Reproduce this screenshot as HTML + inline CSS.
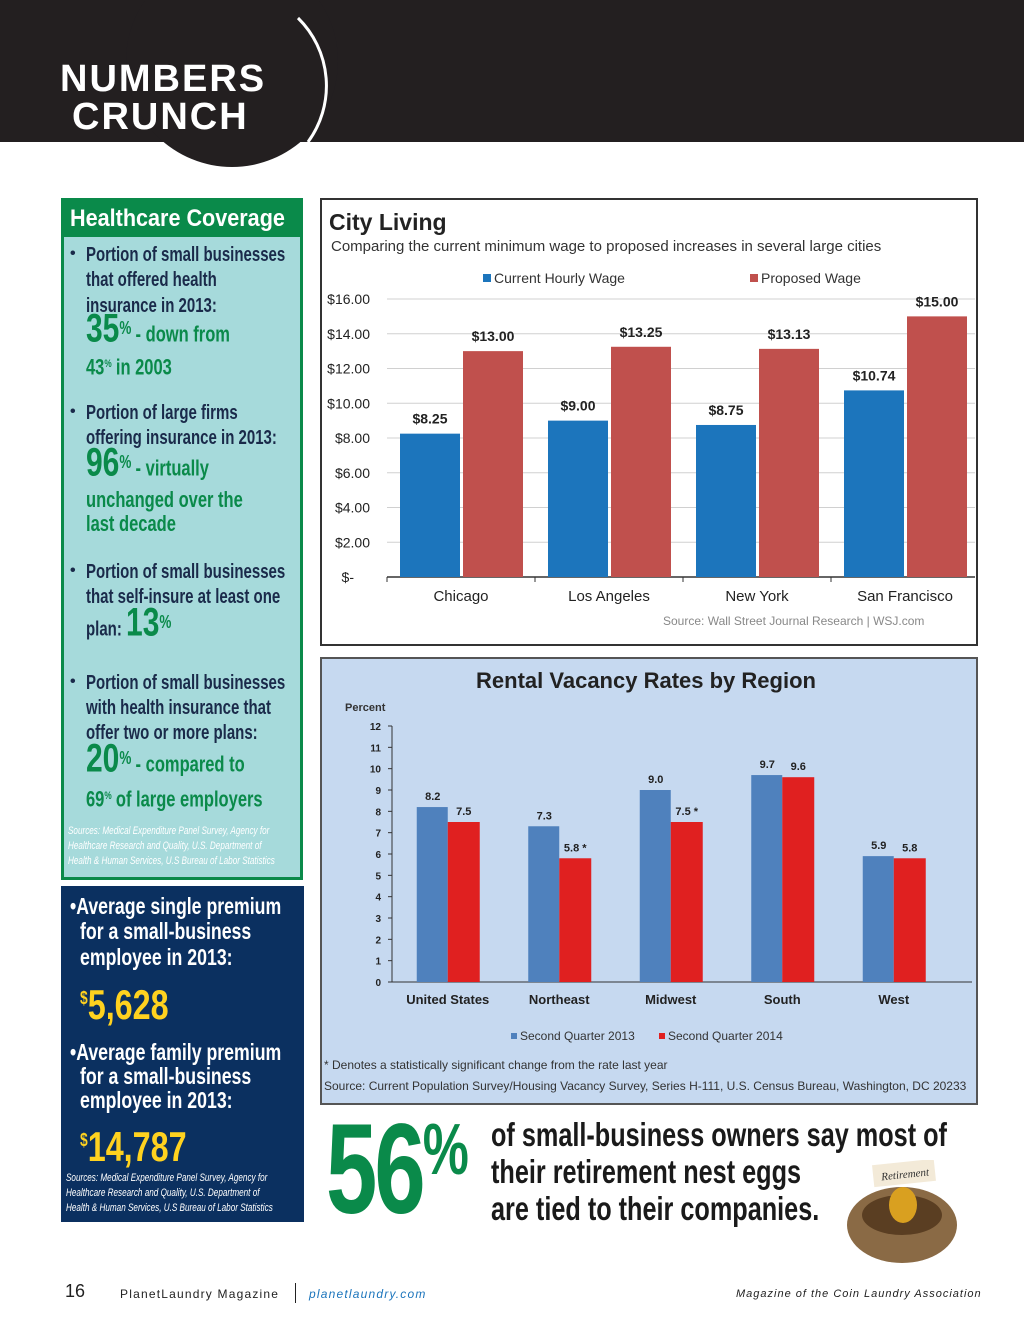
<!DOCTYPE html>
<html><head><meta charset="utf-8"><style>
*{margin:0;padding:0;box-sizing:border-box}
body{width:1024px;height:1329px;position:relative;background:#fff;font-family:"Liberation Sans",sans-serif;overflow:hidden}
.abs{position:absolute}
.ln{position:absolute;white-space:nowrap;transform-origin:0 50%;font-weight:bold}
.hc .ln{color:#1a2a4a;font-size:20px;line-height:24px;transform:scaleX(0.75)}
.hc .g{color:#0a8a4a}
.hc .gb{font-size:22px}
.bul{position:absolute;left:70px;font-size:16px;font-weight:bold;color:#1a2a4a}
.pr .ln{color:#fff;font-size:23px;line-height:26px;transform:scaleX(0.77)}
.src{position:absolute;white-space:nowrap;transform-origin:0 50%;font-style:italic;font-size:11px;line-height:15px;transform:scaleX(0.74);color:#fff}
</style></head><body>
<div class="abs" style="left:0;top:0;width:1024px;height:142px;background:#231f20"></div>
<svg class="abs" style="left:0;top:0" width="340" height="180">
<circle cx="232" cy="61" r="106" fill="#231f20"/>
<path d="M298,18 A95,95 0 0 1 308,142" stroke="#fff" stroke-width="3" fill="none"/>
</svg>
<div class="abs" style="left:60px;top:60px;color:#fff;font-weight:bold;font-size:38px;line-height:38px;letter-spacing:2px;transform:scaleX(1.0);transform-origin:0 0">NUMBERS<br><span style="margin-left:12px">CRUNCH</span></div>

<div class="abs hc" style="left:61px;top:198px;width:242px;height:682px;background:#a6dadb;border:3px solid #0a8a4a">
<div style="background:#0a8a4a;color:#fff;font-weight:bold;font-size:24px;height:36px;line-height:36px;padding-left:6px;white-space:nowrap"><span style="display:inline-block;transform:scaleX(0.9);transform-origin:0 50%">Healthcare Coverage</span></div>
</div>
<div class="hc">
<div class="bul" style="top:245px">•</div>
<div class="ln" style="left:86px;top:243px">Portion of small businesses</div>
<div class="ln" style="left:86px;top:268px">that offered health</div>
<div class="ln" style="left:86px;top:294px">insurance in 2013:</div>
<div class="ln g" style="left:86px;top:316px"><span style="font-size:40px">35</span><sup style="font-size:18px">%</sup> <span class="gb">- down from</span></div>
<div class="ln g" style="left:86px;top:352px"><span class="gb">43</span><sup style="font-size:11px">%</sup> <span class="gb">in 2003</span></div>
<div class="bul" style="top:403px">•</div>
<div class="ln" style="left:86px;top:401px">Portion of large firms</div>
<div class="ln" style="left:86px;top:426px">offering insurance in 2013:</div>
<div class="ln g" style="left:86px;top:450px"><span style="font-size:40px">96</span><sup style="font-size:18px">%</sup> <span class="gb">- virtually</span></div>
<div class="ln g" style="left:86px;top:488px"><span class="gb">unchanged over the</span></div>
<div class="ln g" style="left:86px;top:512px"><span class="gb">last decade</span></div>
<div class="bul" style="top:562px">•</div>
<div class="ln" style="left:86px;top:560px">Portion of small businesses</div>
<div class="ln" style="left:86px;top:585px">that self-insure at least one</div>
<div class="ln" style="left:86px;top:610px">plan: <span class="g" style="font-size:40px">13</span><sup class="g" style="font-size:18px">%</sup></div>
<div class="bul" style="top:673px">•</div>
<div class="ln" style="left:86px;top:671px">Portion of small businesses</div>
<div class="ln" style="left:86px;top:696px">with health insurance that</div>
<div class="ln" style="left:86px;top:721px">offer two or more plans:</div>
<div class="ln g" style="left:86px;top:746px"><span style="font-size:40px">20</span><sup style="font-size:18px">%</sup> <span class="gb">- compared to</span></div>
<div class="ln g" style="left:86px;top:784px"><span class="gb">69</span><sup style="font-size:11px">%</sup> <span class="gb">of large employers</span></div>
<div class="src" style="left:68px;top:824px">Sources: Medical Expenditure Panel Survey, Agency for</div>
<div class="src" style="left:68px;top:839px">Healthcare Research and Quality, U.S. Department of</div>
<div class="src" style="left:68px;top:854px">Health &amp; Human Services, U.S Bureau of Labor Statistics</div>
</div>

<div class="abs" style="left:61px;top:886px;width:243px;height:336px;background:#0b3060"></div>
<div class="pr">
<div class="ln" style="left:70px;top:893px">•Average single premium</div>
<div class="ln" style="left:80px;top:918px">for a small-business</div>
<div class="ln" style="left:80px;top:944px">employee in 2013:</div>
<div class="ln" style="left:80px;top:974px;color:#ffd21f;font-size:42px;line-height:48px"><sup style="font-size:18px">$</sup>5,628</div>
<div class="ln" style="left:70px;top:1039px">•Average family premium</div>
<div class="ln" style="left:80px;top:1063px">for a small-business</div>
<div class="ln" style="left:80px;top:1087px">employee in 2013:</div>
<div class="ln" style="left:80px;top:1116px;color:#ffd21f;font-size:42px;line-height:48px"><sup style="font-size:18px">$</sup>14,787</div>
<div class="src" style="left:66px;top:1171px">Sources: Medical Expenditure Panel Survey, Agency for</div>
<div class="src" style="left:66px;top:1186px">Healthcare Research and Quality, U.S. Department of</div>
<div class="src" style="left:66px;top:1201px">Health &amp; Human Services, U.S Bureau of Labor Statistics</div>
</div>

<svg class="abs" style="left:320px;top:198px" width="658" height="448" id="c1">
<rect x="1" y="1" width="656" height="446" fill="#fff" stroke="#333" stroke-width="2"/>
<text x="9" y="32" font-size="23" font-weight="bold" fill="#222">City Living</text>
<text x="11" y="53" font-size="15" fill="#333">Comparing the current minimum wage to proposed increases in several large cities</text>
<rect x="163" y="76" width="8" height="8" fill="#1c75bc"/><text x="174" y="85" font-size="14" fill="#333">Current Hourly Wage</text>
<rect x="430" y="76" width="8" height="8" fill="#c0504d"/><text x="441" y="85" font-size="14" fill="#333">Proposed Wage</text>
<g id="c1g"></g>
<text x="343" y="427" font-size="12" fill="#888">Source: Wall Street Journal Research  |  WSJ.com</text>
</svg>

<svg class="abs" style="left:320px;top:657px" width="658" height="448" id="c2">
<rect x="1" y="1" width="656" height="446" fill="#c6d9f0" stroke="#555" stroke-width="2"/>
<text x="326" y="31" font-size="22" font-weight="bold" fill="#222" text-anchor="middle">Rental Vacancy Rates by Region</text>
<text x="25" y="54" font-size="11" font-weight="bold" fill="#333">Percent</text>
<g id="c2g"></g>
<rect x="191" y="376" width="6" height="6" fill="#4f81bd"/><text x="200" y="383" font-size="12" fill="#333">Second Quarter 2013</text>
<rect x="339" y="376" width="6" height="6" fill="#e02020"/><text x="348" y="383" font-size="12" fill="#333">Second Quarter 2014</text>
<text x="4" y="412" font-size="12" fill="#333">* Denotes a statistically significant change from the rate last year</text>
<text x="4" y="433" font-size="12" fill="#333">Source: Current Population Survey/Housing Vacancy Survey, Series H-111, U.S. Census Bureau, Washington, DC 20233</text>
</svg>

<div class="abs" style="left:326px;top:1100px;color:#0a8a4a;font-weight:bold;font-size:128px;line-height:140px;letter-spacing:-4px;white-space:nowrap;transform:scaleX(0.72);transform-origin:0 0">56<span style="font-size:72px;vertical-align:top;line-height:100px">%</span></div>
<div class="ln" style="left:491px;top:1116px;color:#1a1a1a;font-size:33px;line-height:37px;transform:scaleX(0.765);transform-origin:0 0">of small-business owners say most of<br>their retirement nest eggs<br>are tied to their companies.</div>
<svg class="abs" style="left:845px;top:1160px" width="115" height="110">
<ellipse cx="57" cy="65" rx="55" ry="38" fill="#8a6a45"/>
<ellipse cx="57" cy="55" rx="40" ry="20" fill="#5a3e22"/>
<ellipse cx="58" cy="45" rx="14" ry="18" fill="#d9a020"/>
<rect x="28" y="2" width="62" height="22" fill="#f3ead8" transform="rotate(-6 59 13)"/>
<text x="36" y="18" font-size="11" font-style="italic" font-family="Liberation Serif" fill="#333" transform="rotate(-6 59 13)">Retirement</text>
</svg>

<div class="abs" style="left:65px;top:1281px;font-size:18px;color:#222">16</div>
<div class="abs" style="left:120px;top:1287px;font-size:12px;letter-spacing:1.2px;color:#222">PlanetLaundry Magazine</div>
<div class="abs" style="left:295px;top:1283px;width:1px;height:20px;background:#222"></div>
<div class="abs" style="left:309px;top:1287px;font-size:12px;letter-spacing:1.2px;color:#1c75bc;font-style:italic">planetlaundry.com</div>
<div class="abs" style="left:736px;top:1288px;font-size:11px;letter-spacing:1px;color:#222;font-style:italic">Magazine of the Coin Laundry Association</div>

<script>
const cities=["Chicago","Los Angeles","New York","San Francisco"];
const currentWage=[8.25,9.00,8.75,10.74];
const proposedWage=[13.00,13.25,13.13,15.00];
const wageTicks=[0,2,4,6,8,10,12,14,16];
const wageTickLabels=["$-","$2.00","$4.00","$6.00","$8.00","$10.00","$12.00","$14.00","$16.00"];

const regions=["United States","Northeast","Midwest","South","West"];
const q2013=[8.2,7.3,9.0,9.7,5.9];
const q2014=[7.5,5.8,7.5,9.6,5.8];
const q2014Star=[false,true,true,false,false];
const vacTicks=[0,1,2,3,4,5,6,7,8,9,10,11,12];

const NS="http://www.w3.org/2000/svg";
function mk(p,t,a,txt){const e=document.createElementNS(NS,t);for(const k in a)e.setAttribute(k,a[k]);if(txt!==undefined)e.textContent=txt;p.appendChild(e);return e;}

(function(){
const g=document.getElementById('c1g');
const y=v=>379-v*(278/16);
const x0=67,step=148;
const cx=i=>x0+step*(i+0.5);
wageTicks.forEach((t,i)=>{
 if(t>0){const l=mk(g,'line',{x1:67,x2:655,y1:y(t),y2:y(t),stroke:'#d0d0d0'});
 
 }
 const tx=mk(g,'text',{x:t===0?34:50,y:y(t)+5,'font-size':14,fill:'#222','text-anchor':'end'},wageTickLabels[i]);
 
 
});
mk(g,'line',{x1:67,x2:655,y1:y(0),y2:y(0),stroke:'#333','stroke-width':1.5});
cities.forEach((c,i)=>{
 mk(g,'line',{x1:x0+step*i,x2:x0+step*i,y1:y(0),y2:y(0)+5,stroke:'#333'});
 const b=mk(g,'rect',{x:cx(i)-61,y:y(currentWage[i]),width:60,height:y(0)-y(currentWage[i]),fill:'#1c75bc'});
 
 
 const r=mk(g,'rect',{x:cx(i)+2,y:y(proposedWage[i]),width:60,height:y(0)-y(proposedWage[i]),fill:'#c0504d'});
 
 
 mk(g,'text',{x:cx(i)-31,y:y(currentWage[i])-10,'font-size':14,'font-weight':'bold',fill:'#222','text-anchor':'middle'},'$'+currentWage[i].toFixed(2));
 mk(g,'text',{x:cx(i)+32,y:y(proposedWage[i])-10,'font-size':14,'font-weight':'bold',fill:'#222','text-anchor':'middle'},'$'+proposedWage[i].toFixed(2));
 const cl=mk(g,'text',{x:cx(i),y:403,'font-size':15,fill:'#222','text-anchor':'middle'},c);
 
 
});
})();

(function(){
const g=document.getElementById('c2g');
const y=v=>325-v*(256/12);
const x0=72,step=111.5;
const cx=i=>x0+step*(i+0.5);
vacTicks.forEach(t=>{
 const tx=mk(g,'text',{x:61,y:y(t)+4,'font-size':10,'font-weight':'bold',fill:'#222','text-anchor':'end'},t);
 
 
 mk(g,'line',{x1:68,x2:72,y1:y(t),y2:y(t),stroke:'#333'});
});
mk(g,'line',{x1:72,x2:72,y1:y(12),y2:y(0),stroke:'#333'});
mk(g,'line',{x1:72,x2:652,y1:y(0),y2:y(0),stroke:'#333'});
regions.forEach((c,i)=>{
 const b=mk(g,'rect',{x:cx(i)-31,y:y(q2013[i]),width:31,height:y(0)-y(q2013[i]),fill:'#4f81bd'});
 
 
 const r=mk(g,'rect',{x:cx(i),y:y(q2014[i]),width:32,height:y(0)-y(q2014[i]),fill:'#e02020'});
 
 
 mk(g,'text',{x:cx(i)-15,y:y(q2013[i])-7,'font-size':11,'font-weight':'bold',fill:'#222','text-anchor':'middle'},q2013[i].toFixed(1));
 mk(g,'text',{x:cx(i)+16,y:y(q2014[i])-7,'font-size':11,'font-weight':'bold',fill:'#222','text-anchor':'middle'},q2014[i].toFixed(1)+(q2014Star[i]?' *':''));
 const cl=mk(g,'text',{x:cx(i),y:347,'font-size':13,'font-weight':'bold',fill:'#222','text-anchor':'middle'},c);
 
 
});
})();
</script>
</body></html>
